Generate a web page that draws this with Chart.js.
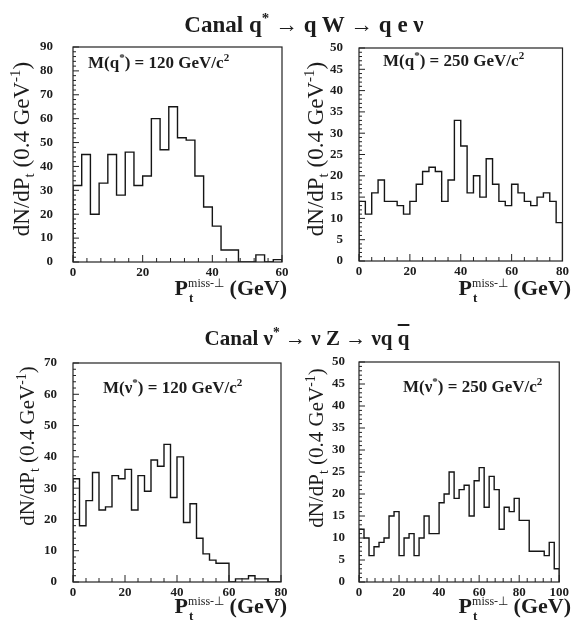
<!DOCTYPE html>
<html>
<head>
<meta charset="utf-8">
<script src="https://cdn.jsdelivr.net/npm/chart.js@4.4.1/dist/chart.umd.min.js"></script>
<style>
html,body{margin:0;padding:0;background:#fff;}
body{width:572px;height:622px;position:relative;overflow:hidden;font-family:"Liberation Serif","Times New Roman",serif;color:#1c1c1c;}
canvas{position:absolute;left:0;top:0;}
.txt{position:absolute;white-space:nowrap;line-height:1;}
.title{font-weight:bold;font-size:23px;transform:translateX(-50%);}
.ann{font-weight:bold;font-size:17px;}
.xt{font-weight:bold;font-size:22px;transform:translateX(-100%);}
.yt{font-size:23px;transform:translate(-50%,-50%) rotate(-90deg);}
.yt.small{font-size:21px;}
.up{position:relative;top:-0.6em;font-size:0.65em;}
.dn{position:relative;top:0.35em;font-size:0.65em;}
.ss{position:relative;}
.sb{position:absolute;left:1px;top:16px;font-size:13px;}
.sp{position:relative;top:-8px;font-size:12px;font-weight:normal;}
.ov{text-decoration:overline;}
</style>
</head>
<body>
<canvas id="p1" width="572" height="622"></canvas>
<canvas id="p2" width="572" height="622"></canvas>
<canvas id="p3" width="572" height="622"></canvas>
<canvas id="p4" width="572" height="622"></canvas>

<div class="txt title" style="left:304px;top:13px;">Canal q<span class="up">*</span> → q W → q e ν</div>
<div class="txt title" style="left:307px;top:328px;font-size:21px;">Canal ν<span class="up">*</span> → ν Z → νq <span class="ov">q</span></div>

<div class="txt ann" style="left:88px;top:54px;">M(q<span class="up">*</span>) = 120 GeV/c<span class="up">2</span></div>
<div class="txt ann" style="left:383px;top:52px;">M(q<span class="up">*</span>) = 250 GeV/c<span class="up">2</span></div>
<div class="txt ann" style="left:103px;top:379px;">M(ν<span class="up">*</span>) = 120 GeV/c<span class="up">2</span></div>
<div class="txt ann" style="left:403px;top:378px;">M(ν<span class="up">*</span>) = 250 GeV/c<span class="up">2</span></div>

<div class="txt yt" style="left:21px;top:149px;">dN/dP<span class="dn">t</span> (0.4 GeV<span class="up">-1</span>)</div>
<div class="txt yt" style="left:315px;top:149px;">dN/dP<span class="dn">t</span> (0.4 GeV<span class="up">-1</span>)</div>
<div class="txt yt small" style="left:27px;top:446px;">dN/dP<span class="dn">t</span> (0.4 GeV<span class="up">-1</span>)</div>
<div class="txt yt small" style="left:316px;top:448px;">dN/dP<span class="dn">t</span> (0.4 GeV<span class="up">-1</span>)</div>

<div class="txt xt" style="left:287px;top:277px;">P<span class="ss"><span class="sb">t</span><span class="sp">miss-⊥</span></span> (GeV)</div>
<div class="txt xt" style="left:571px;top:277px;">P<span class="ss"><span class="sb">t</span><span class="sp">miss-⊥</span></span> (GeV)</div>
<div class="txt xt" style="left:287px;top:595px;">P<span class="ss"><span class="sb">t</span><span class="sp">miss-⊥</span></span> (GeV)</div>
<div class="txt xt" style="left:571px;top:595px;">P<span class="ss"><span class="sb">t</span><span class="sp">miss-⊥</span></span> (GeV)</div>

<script>
// ---- data (bin width 2.5 GeV) ----
const binWidth = 2.5;
const qStar120Counts = [32,45,20,33,45,28,46,32,36,60,47,65,52,51,36,23,15,5,5,0,0,3,0,1];
const qStar250Counts = [14,11,16,19,14,14,13,11,14,18,21,22,21,14,19,33,27,16,20,15,24,18,14,13,18,16,14,13,15,16,14,9];
const nuStar120Counts = [33,18,26,35,23,24,34,33,36,23,34,29,39,37,44,27,40,19,25,14,9,7,6,6,0,1,1,2,1,1,0,0];
const nuStar250Counts = [12,10,6,8,9,10,15,16,6,10,11,6,10,15,11,11,18,20,25,19,21,22,15,23,26,17,24,21,12,17,16,19,14,14,7,7,7,6,9,3];

const xTicks60 = [0,20,40,60];
const xTicks80 = [0,20,40,60,80];
const xTicks100 = [0,20,40,60,80,100];
const yTicks90 = [0,10,20,30,40,50,60,70,80,90];
const yTicks70 = [0,10,20,30,40,50,60,70];
const yTicks50 = [0,5,10,15,20,25,30,35,40,45,50];

const PAGE_W = 572, PAGE_H = 622;
const panels = [
  {id:'p1', counts:qStar120Counts, xTicks:xTicks60, yTicks:yTicks90, xMinor:4, yMinor:2, box:{l:73,r:282,t:47,b:262}, yPad:20},
  {id:'p2', counts:qStar250Counts, xTicks:xTicks80, yTicks:yTicks50, xMinor:5, yMinor:1, box:{l:359,r:567,t:48,b:261}, yPad:16},
  {id:'p3', counts:nuStar120Counts, xTicks:xTicks80, yTicks:yTicks70, xMinor:5, yMinor:2, box:{l:73,r:281,t:363,b:582}, yPad:16},
  {id:'p4', counts:nuStar250Counts, xTicks:xTicks100, yTicks:yTicks50, xMinor:4, yMinor:1, box:{l:359,r:567,t:362,b:582}, yPad:14}
];

function histPoints(counts){
  const pts = [{x:0, y:0}];
  counts.forEach((c,i) => pts.push({x:i*binWidth, y:c}));
  const end = counts.length*binWidth;
  pts.push({x:end, y:counts[counts.length-1]});
  pts.push({x:end, y:0});
  return pts;
}

const framePlugin = {
  id:'frame',
  afterDatasetsDraw(chart, args, o){
    const {ctx, chartArea:a, scales:{x, y}} = chart;
    ctx.save();
    ctx.strokeStyle = '#222';
    ctx.lineWidth = 1.2;
    ctx.strokeRect(a.left, a.top, a.right-a.left, a.bottom-a.top);
    ctx.beginPath();
    for (let v = x.min; v <= x.max + 1e-9; v += o.xMinor){
      const px = x.getPixelForValue(v);
      const len = o.xTicks.includes(v) ? 7 : 4;
      ctx.moveTo(px, a.bottom); ctx.lineTo(px, a.bottom - len);
    }
    for (let v = y.min; v <= y.max + 1e-9; v += o.yMinor){
      const py = y.getPixelForValue(v);
      const len = o.yTicks.includes(v) ? 6 : 3;
      ctx.moveTo(a.left, py); ctx.lineTo(a.left + len, py);
    }
    ctx.lineWidth = 1;
    ctx.stroke();
    ctx.restore();
  }
};

const tickFont = {family:'"Liberation Serif", serif', weight:'bold', size:13};

panels.forEach(p => {
  const b = p.box;
  new Chart(document.getElementById(p.id), {
    type:'line',
    data:{datasets:[{
      data:histPoints(p.counts),
      stepped:'before',
      borderColor:'#151515',
      borderWidth:1.4,
      pointRadius:0,
      fill:false,
      tension:0
    }]},
    options:{
      responsive:false,
      animation:false,
      events:[],
      layout:{autoPadding:false, padding:{left:0, top:b.t, right:PAGE_W-b.r, bottom:0}},
      plugins:{
        legend:{display:false},
        tooltip:{enabled:false},
        frame:{xTicks:p.xTicks, yTicks:p.yTicks, xMinor:p.xMinor, yMinor:p.yMinor}
      },
      scales:{
        x:{
          type:'linear', position:'bottom',
          min:p.xTicks[0], max:p.xTicks[p.xTicks.length-1],
          afterFit(s){ s.height = PAGE_H - b.b; },
          afterBuildTicks(s){ s.ticks = p.xTicks.map(v => ({value:v})); },
          grid:{display:false, drawTicks:false},
          border:{display:false},
          ticks:{padding:3, font:tickFont, color:'#1c1c1c', maxRotation:0, autoSkip:false}
        },
        y:{
          type:'linear', position:'left',
          min:p.yTicks[0], max:p.yTicks[p.yTicks.length-1],
          afterFit(s){ s.width = b.l; },
          afterBuildTicks(s){ s.ticks = p.yTicks.map(v => ({value:v})); },
          grid:{display:false, drawTicks:false},
          border:{display:false},
          ticks:{padding:p.yPad, font:tickFont, color:'#1c1c1c', autoSkip:false}
        }
      }
    },
    plugins:[framePlugin]
  });
});
</script>
</body>
</html>
